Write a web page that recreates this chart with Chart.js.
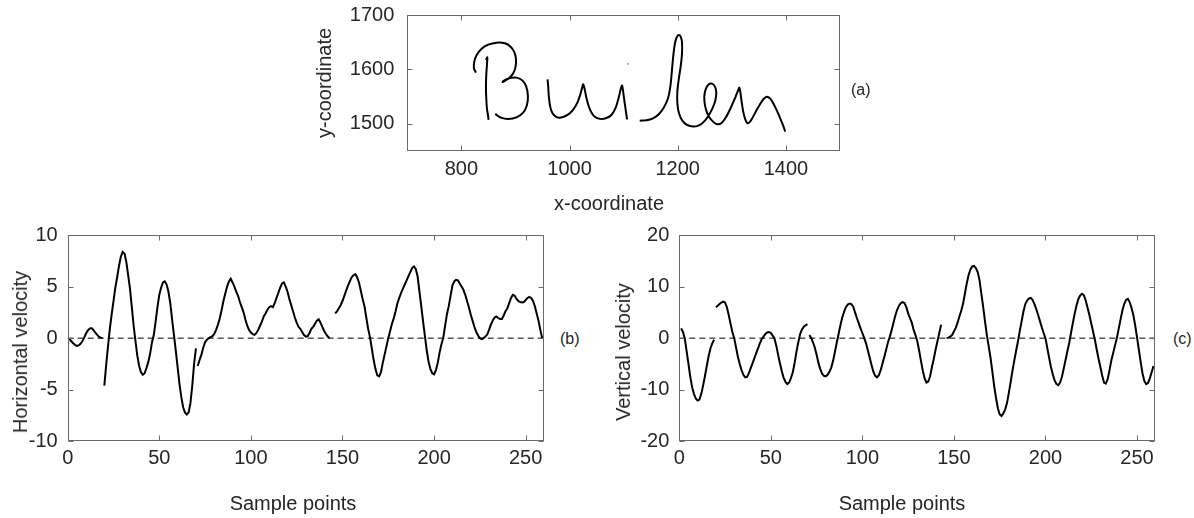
<!DOCTYPE html>
<html>
<head>
<meta charset="utf-8">
<script src="https://cdn.jsdelivr.net/npm/chart.js@4.4.1/dist/chart.umd.min.js"></script>
<style>
  html, body { margin: 0; padding: 0; background: #ffffff; }
  body { width: 1194px; height: 518px; overflow: hidden; position: relative;
         font-family: "Liberation Sans", Arial, Helvetica, sans-serif; color: #262626; }
  canvas { position: absolute; }
  .t { position: absolute; white-space: nowrap; font-size: 20px; line-height: 1; color: #262626;
       transform: translate(-50%, -50%); }
  .r { transform: translate(-50%, -50%) rotate(-90deg); }
  .p { position: absolute; white-space: nowrap; font-size: 16px; line-height: 1; color: #262626;
       transform: translate(0, -50%); }
</style>
</head>
<body>
<canvas id="chartA" width="560" height="220" style="left:300px;top:0px"></canvas>
<canvas id="chartB" width="560" height="293" style="left:0px;top:225px"></canvas>
<canvas id="chartC" width="560" height="293" style="left:610px;top:225px"></canvas>

<div class="t r" style="left:324px;top:83px">y-coordinate</div>
<div class="t" style="left:609px;top:203px">x-coordinate</div>
<div class="p" style="left:851px;top:90px">(a)</div>

<div class="t r" style="left:20px;top:352px">Horizontal velocity</div>
<div class="t" style="left:293px;top:503px">Sample points</div>
<div class="p" style="left:560px;top:339px">(b)</div>

<div class="t r" style="left:623px;top:352px">Vertical velocity</div>
<div class="t" style="left:902px;top:503px">Sample points</div>
<div class="p" style="left:1173px;top:339px">(c)</div>

<script>
// ---------- (a) handwriting trajectory: pen strokes (x, y) ----------
const strokeX1 = [845.4, 847.9, 847.2, 846.0, 845.4, 846.0, 847.2, 849.1, 850.3];
const strokeY1 = [1617.1, 1622.0, 1607.9, 1589.5, 1568.0, 1546.5, 1528.1, 1515.8, 1506.6];

const strokeX2 = [826.9, 823.2, 823.8, 828.2, 837.4, 849.7, 865.1, 880.5, 891.0, 897.7, 900.8, 900.2, 895.9, 888.5,
                  881.1, 876.2, 881.1, 889.7, 902.0, 913.1, 919.9, 923.0, 921.1, 914.3, 902.0, 886.6, 873.1, 862.6];
const strokeY2 = [1593.8, 1601.8, 1614.1, 1626.3, 1638.0, 1645.4, 1649.1, 1647.8, 1641.7, 1631.9, 1619.6, 1604.9, 1592.6, 1584.0,
                  1579.1, 1576.6, 1580.3, 1584.0, 1584.6, 1579.1, 1568.0, 1550.8, 1533.6, 1520.1, 1511.5, 1508.5, 1510.9, 1517.7];

const strokeX3 = [959.3, 960.5, 961.7, 964.2, 968.5, 974.7, 982.0, 991.3, 1000.5, 1008.5, 1015.3, 1020.2, 1023.3, 1025.1,
                  1027.6, 1031.3, 1036.2, 1042.4, 1049.8, 1059.0, 1068.2, 1077.5, 1085.5, 1091.0, 1094.6, 1097.1, 1099.5,
                  1102.0, 1104.5, 1106.3];
const strokeY3 = [1581.5, 1568.0, 1549.6, 1531.2, 1518.9, 1512.8, 1510.9, 1513.4, 1518.9, 1528.1, 1540.4, 1554.5, 1566.2, 1572.3,
                  1565.0, 1546.5, 1530.0, 1517.1, 1510.3, 1508.5, 1510.3, 1515.8, 1530.0, 1548.4, 1563.7, 1569.9, 1555.7,
                  1537.3, 1520.1, 1507.9];

const strokeX4 = [1129.7, 1142.0, 1154.3, 1165.4, 1174.6, 1182.0, 1186.3, 1188.8, 1191.3, 1194.3, 1198.0, 1201.7, 1205.4,
                  1207.9, 1207.9, 1205.4, 1201.7, 1199.3, 1199.3, 1202.3, 1208.5, 1217.1, 1228.2, 1239.3, 1248.5, 1256.5,
                  1263.9, 1269.4, 1271.3, 1268.8, 1263.3, 1256.5, 1251.6, 1249.1, 1250.4, 1254.7, 1262.1, 1271.3, 1280.5,
                  1289.8, 1299.0, 1307.0, 1311.9, 1313.8, 1315.6, 1318.1, 1321.1, 1324.8, 1329.8, 1335.9, 1343.3, 1351.3,
                  1358.7, 1364.9, 1371.0, 1377.2, 1383.3, 1389.5, 1394.4, 1398.7];
const strokeY4 = [1505.4, 1506.0, 1509.7, 1517.7, 1530.0, 1546.5, 1568.0, 1592.6, 1620.2, 1644.8, 1658.9, 1663.2, 1660.1,
                  1649.1, 1629.4, 1604.9, 1580.3, 1558.8, 1537.3, 1518.9, 1505.4, 1497.4, 1494.4, 1496.8, 1503.6, 1514.0,
                  1527.5, 1542.2, 1557.0, 1568.0, 1573.6, 1571.7, 1563.1, 1549.6, 1533.6, 1518.9, 1506.6, 1499.3, 1500.5,
                  1512.8, 1531.2, 1549.6, 1561.9, 1566.2, 1558.8, 1540.4, 1522.0, 1507.9, 1500.5, 1506.6, 1520.1, 1534.3,
                  1545.3, 1549.6, 1545.9, 1536.1, 1523.8, 1509.7, 1497.4, 1485.1];

const dotX = [1107.0, 1110.0];
const dotY = [1609.8, 1609.8];

const xTicksA = [800, 1000, 1200, 1400];
const yTicksA = [1500, 1600, 1700];

// ---------- (b) horizontal velocity, four pen-down segments ----------
const hStart = [0, 20, 71, 146];
const hVel1 = [0, -0.1, -0.3, -0.5, -0.65, -0.75, -0.7, -0.55, -0.3, 0.05, 0.45, 0.75, 0.93, 0.97, 0.8, 0.55, 0.35, 0.15, 0.05, 0];
const hVel2 = [-4.6, -2.6, -0.8, 0.9, 2.3, 3.6, 4.9, 5.9, 7.0, 7.9, 8.35, 8.2, 7.4, 6.1, 4.8, 3.0, 1.2, -0.3, -1.7, -2.7,
               -3.3, -3.55, -3.4, -2.9, -2.3, -1.5, -0.4, 0.3, 1.6, 3.0, 4.2, 4.9, 5.4, 5.5, 5.2, 4.5, 3.4, 1.8, 0.3, -1.2,
               -2.8, -4.4, -5.7, -6.7, -7.2, -7.4, -7.2, -6.3, -4.6, -2.5, -1.0];
const hVel3 = [-2.7, -2.1, -1.6, -0.9, -0.4, -0.15, 0, 0.1, 0.2, 0.4, 0.8, 1.3, 1.9, 2.7, 3.6, 4.3, 5.0, 5.5, 5.76, 5.4,
               5.0, 4.5, 4.1, 3.5, 3.0, 2.5, 1.8, 1.2, 0.8, 0.55, 0.38, 0.32, 0.5, 0.8, 1.2, 1.6, 2.1, 2.4, 2.75, 3.0,
               3.1, 3.0, 3.4, 3.9, 4.4, 4.9, 5.3, 5.4, 5.0, 4.5, 3.8, 3.2, 2.6, 2.0, 1.5, 1.1, 0.9, 0.6, 0.3, 0.15,
               0.2, 0.5, 0.9, 1.1, 1.4, 1.7, 1.84, 1.5, 1.1, 0.7, 0.4, 0.15, 0];
const hVel4 = [2.4, 2.6, 2.9, 3.2, 3.6, 4.1, 4.6, 5.1, 5.5, 5.9, 6.1, 6.2, 5.9, 5.4, 4.6, 3.8, 3.1, 2.0, 0.9, 0.1,
               -1.0, -2.1, -3.0, -3.6, -3.7, -3.3, -2.4, -1.6, -0.8, 0, 0.7, 1.4, 1.94, 2.6, 3.4, 3.9, 4.4, 4.8, 5.2, 5.6,
               6.0, 6.4, 6.8, 6.95, 6.7, 6.0, 4.5, 3.1, 1.6, 0.2, -1.2, -2.3, -3.0, -3.4, -3.5, -3.1, -2.4, -1.4, -0.6, 0,
               1.2, 2.3, 3.1, 4.1, 5.1, 5.5, 5.65, 5.6, 5.3, 5.0, 4.7, 4.2, 3.6, 3.0, 2.3, 1.7, 1.1, 0.6, 0.25, 0,
               -0.1, 0, 0.15, 0.35, 0.8, 1.3, 1.7, 2.0, 2.1, 1.95, 1.85, 1.85, 2.2, 2.6, 2.9, 3.4, 3.9, 4.2, 4.1, 3.8,
               3.6, 3.5, 3.45, 3.5, 3.7, 3.9, 4.0, 3.9, 3.6, 3.1, 2.4, 1.7, 0.8, 0];

// ---------- (c) vertical velocity, four pen-down segments ----------
const vStart = [1, 20, 71, 146];
const vVel1 = [1.9, 1.2, -0.1, -2.5, -5.0, -7.5, -9.5, -10.8, -11.7, -12.1, -11.9, -10.8, -9.2, -7.4, -5.4, -3.5, -2.0, -1.0, -0.3];
const vVel2 = [6.0, 6.3, 6.6, 6.9, 7.1, 6.9, 6.0, 4.5, 2.8, 1.2, 0, -1.8, -3.6, -5.0, -6.2, -7.1, -7.6, -7.5, -6.8, -5.8,
               -4.9, -3.9, -2.9, -2.0, -1.0, -0.2, 0.3, 0.8, 1.1, 1.2, 1.0, 0.5, -0.1, -1.5, -3.3, -4.9, -6.4, -7.7, -8.5, -8.9,
               -8.6, -7.7, -6.6, -4.8, -2.6, -0.8, 0.8, 1.7, 2.2, 2.5, 2.7];
const vVel3 = [0.6, 0.1, -0.8, -1.8, -3.2, -4.8, -6.0, -6.9, -7.3, -7.4, -7.1, -6.5, -5.7, -4.4, -2.7, -0.9, 0.8, 2.5, 4.0, 5.1,
               6.0, 6.5, 6.7, 6.6, 6.1, 5.0, 3.9, 2.9, 1.9, 1.0, 0, -1.0, -2.4, -3.8, -5.2, -6.5, -7.3, -7.6, -7.2, -6.2,
               -4.9, -3.6, -2.2, -0.8, 0.3, 1.6, 3.0, 4.4, 5.5, 6.3, 6.8, 7.0, 6.8, 6.0, 4.8, 3.9, 3.0, 1.6, 0.6, -0.6,
               -2.4, -4.4, -6.3, -7.8, -8.6, -8.4, -7.4, -5.6, -4.0, -2.2, -0.6, 1.0, 2.6];
const vVel4 = [0, 0.1, 0.3, 0.6, 1.3, 2.0, 3.0, 4.2, 5.3, 6.7, 8.6, 10.6, 12.2, 13.3, 13.9, 14.0, 13.6, 12.8, 11.2, 8.6,
               6.0, 3.2, 0.6, -1.6, -3.8, -6.5, -9.3, -11.6, -13.6, -14.8, -15.1, -14.6, -13.8, -12.6, -10.6, -8.5, -6.3, -4.3, -2.4, -0.6,
               1.4, 3.3, 5.2, 6.6, 7.3, 7.7, 7.8, 7.4, 6.6, 5.6, 4.5, 3.3, 2.1, 1.0, 0, -1.9, -3.8, -5.6, -7.0, -8.2,
               -8.9, -9.1, -8.6, -7.5, -5.9, -4.2, -2.5, -0.9, 1.1, 3.0, 4.8, 6.4, 7.6, 8.3, 8.6, 8.3, 7.3, 5.9, 4.5, 2.9,
               1.3, -0.3, -2.2, -4.0, -5.6, -7.3, -8.6, -8.8, -7.9, -6.2, -4.3, -2.9, -1.4, 0, 1.8, 3.6, 5.3, 6.6, 7.4, 7.6,
               7.0, 5.9, 4.5, 2.5, 0.2, -2.2, -4.6, -6.8, -8.3, -8.9, -8.7, -7.8, -6.6, -5.4];

const sampleTicks = [0, 50, 100, 150, 200, 250];
const hTicks = [-10, -5, 0, 5, 10];
const vTicks = [-20, -10, 0, 10, 20];
const zeroLineX = [0, 260];

// ---------- helpers ----------
const FONT = "'Liberation Sans', Arial, Helvetica, sans-serif";
const TEXT = '#262626';
const AXIS = '#6a6a6a';

function pts(xs, ys) { return xs.map((x, i) => ({ x: x, y: ys[i] })); }
function seg(start, vals) { return vals.map((v, i) => ({ x: start + i, y: v })); }

const boxPlugin = {
  id: 'matlabBox',
  afterDatasetsDraw(chart) {
    const { ctx, chartArea: a, scales } = chart;
    const L = Math.round(a.left) + 0.5, R = Math.round(a.right) - 0.5;
    const T = Math.round(a.top) + 0.5, B = Math.round(a.bottom) - 0.5;
    const tl = 5;
    ctx.save();
    ctx.strokeStyle = AXIS;
    ctx.lineWidth = 1;
    ctx.beginPath();
    scales.x.ticks.forEach(t => {
      const p = Math.round(scales.x.getPixelForValue(t.value)) + 0.5;
      ctx.moveTo(p, B); ctx.lineTo(p, B - tl);
      ctx.moveTo(p, T); ctx.lineTo(p, T + tl);
    });
    scales.y.ticks.forEach(t => {
      const p = Math.round(scales.y.getPixelForValue(t.value)) + 0.5;
      ctx.moveTo(L, p); ctx.lineTo(L + tl, p);
      ctx.moveTo(R, p); ctx.lineTo(R - tl, p);
    });
    ctx.stroke();
    ctx.strokeRect(L, T, R - L, B - T);
    ctx.restore();
  }
};

function axis(min, max, tickValues, fit, isX, pad) {
  return {
    type: 'linear', min: min, max: max,
    afterBuildTicks: s => { s.ticks = tickValues.map(v => ({ value: v })); },
    afterFit: s => {
      if (isX) s.height = fit; else s.width = fit;
      s.paddingTop = 0; s.paddingBottom = 0; s.paddingLeft = 0; s.paddingRight = 0;
    },
    grid: { display: false, drawTicks: false },
    border: { display: false },
    ticks: { color: TEXT, font: { family: FONT, size: 20 }, padding: pad, maxRotation: 0, autoSkip: false,
             callback: v => String(v) },
    title: { display: false }
  };
}

function lineDs(data, opts) {
  return Object.assign({
    data: data, borderColor: '#000000', borderWidth: 2, pointRadius: 0, pointHoverRadius: 0,
    showLine: true, fill: false, tension: 0
  }, opts || {});
}

function baseOptions(scales, padding) {
  return {
    responsive: false, animation: false, devicePixelRatio: 1,
    layout: { padding: padding },
    plugins: { legend: { display: false }, tooltip: { enabled: false }, title: { display: false } },
    events: [],
    scales: scales
  };
}

// ---------- chart (a) ----------
new Chart(document.getElementById('chartA'), {
  type: 'scatter',
  data: {
    datasets: [
      lineDs(pts(strokeX1, strokeY1), { tension: 0.3 }),
      lineDs(pts(strokeX2, strokeY2), { tension: 0.3 }),
      lineDs(pts(strokeX3, strokeY3), { tension: 0.3 }),
      lineDs(pts(strokeX4, strokeY4), { tension: 0.3 }),
      lineDs(pts(dotX, dotY), { borderColor: '#7e2f8e', borderWidth: 1 })
    ]
  },
  options: baseOptions({
    x: axis(700, 1500, xTicksA, 69.3, true, 7),
    y: axis(1450, 1700, yTicksA, 107.3, false, 13)
  }, { top: 15, right: 20, bottom: 0, left: 0 }),
  plugins: [boxPlugin]
});

// ---------- chart (b) ----------
new Chart(document.getElementById('chartB'), {
  type: 'scatter',
  data: {
    datasets: [
      lineDs(seg(zeroLineX[0], [0]).concat([{ x: zeroLineX[1], y: 0 }]), { borderWidth: 1, borderDash: [6, 4] }),
      lineDs(seg(hStart[0], hVel1)),
      lineDs(seg(hStart[1], hVel2)),
      lineDs(seg(hStart[2], hVel3)),
      lineDs(seg(hStart[3], hVel4))
    ]
  },
  options: baseOptions({
    x: axis(0, 260, sampleTicks, 76.7, true, 5),
    y: axis(-10, 10, hTicks, 67.7, false, 10)
  }, { top: 10, right: 16, bottom: 0, left: 0 }),
  plugins: [boxPlugin]
});

// ---------- chart (c) ----------
new Chart(document.getElementById('chartC'), {
  type: 'scatter',
  data: {
    datasets: [
      lineDs(seg(zeroLineX[0], [0]).concat([{ x: zeroLineX[1], y: 0 }]), { borderWidth: 1, borderDash: [6, 4] }),
      lineDs(seg(vStart[0], vVel1)),
      lineDs(seg(vStart[1], vVel2)),
      lineDs(seg(vStart[2], vVel3)),
      lineDs(seg(vStart[3], vVel4))
    ]
  },
  options: baseOptions({
    x: axis(0, 260, sampleTicks, 76.7, true, 5),
    y: axis(-20, 20, vTicks, 69.3, false, 10)
  }, { top: 10, right: 14.7, bottom: 0, left: 0 }),
  plugins: [boxPlugin]
});
</script>
</body>
</html>
